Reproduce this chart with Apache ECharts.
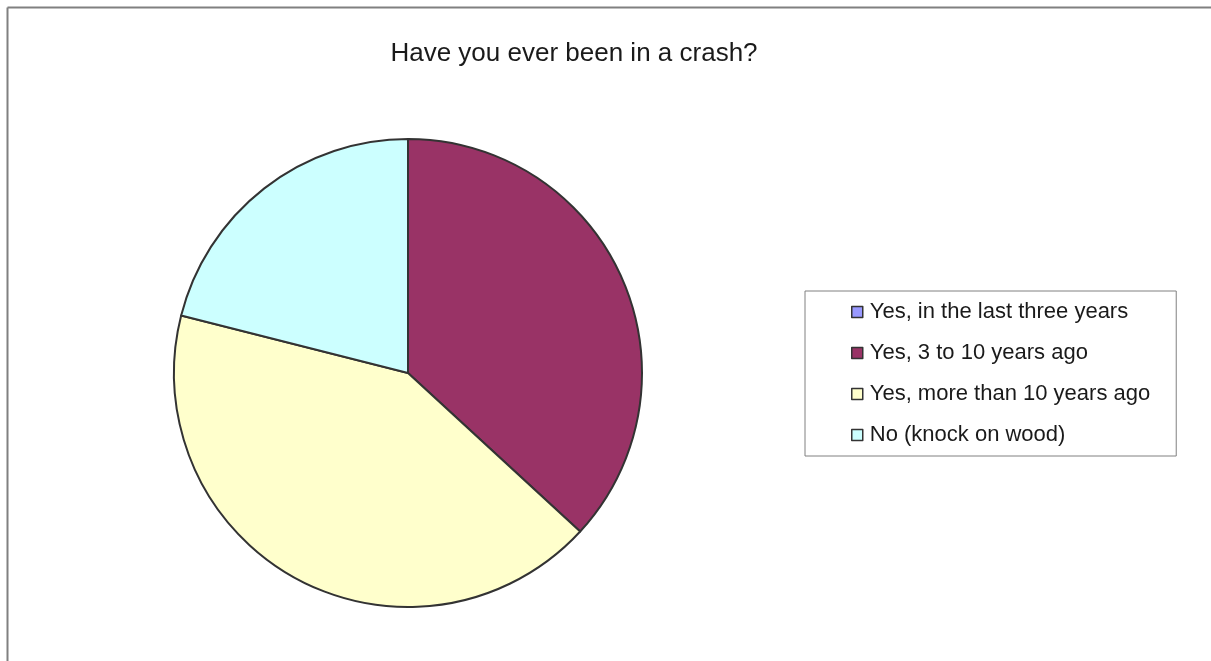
<!DOCTYPE html>
<html>
<head>
<meta charset="utf-8">
<script src="https://cdn.jsdelivr.net/npm/echarts@6/dist/echarts.min.js"></script>
<style>
  html, body { margin: 0; padding: 0; background: #fff; }
  #chart { width: 1211px; height: 661px; }
</style>
</head>
<body>
<div id="chart"></div>
<script>
// answers and counts
var categories = ['Yes, in the last three years', 'Yes, 3 to 10 years ago', 'Yes, more than 10 years ago', 'No (knock on wood)'];
var counts = [0, 7, 8, 4];
var colors = ['#9999FF', '#993366', '#FFFFCC', '#CCFFFF'];

var chartDom = document.getElementById('chart');
var myChart = echarts.init(chartDom);

var pieData = categories.map(function (name, i) {
  return { name: name, value: counts[i], itemStyle: { color: colors[i] } };
});

var option = {
  animation: false,
  title: {
    text: 'Have you ever been in a crash?',
    left: 569,
    top: 36,
    textAlign: 'center',
    textStyle: {
      fontFamily: 'Liberation Sans, Arial, sans-serif',
      fontSize: 26,
      fontWeight: 'normal',
      color: '#1a1a1a'
    }
  },
  legend: {
    orient: 'vertical',
    left: 805,
    top: 291,
    padding: [9, 26, 9, 46],
    borderColor: '#808080',
    borderWidth: 1,
    itemWidth: 11,
    itemHeight: 11,
    itemGap: 17,
    icon: 'rect',
    itemStyle: { borderColor: '#333', borderWidth: 1.5 },
    textStyle: {
      fontFamily: 'Liberation Sans, Arial, sans-serif',
      fontSize: 22,
      lineHeight: 24,
      color: '#1a1a1a',
      padding: [0, 0, 0, 2]
    },
    data: categories
  },
  graphic: [
    // frame lines along the top and left edge
    { type: 'line', shape: { x1: 7.5, y1: 7.5, x2: 1211, y2: 7.5 }, style: { stroke: '#808080', lineWidth: 2 } },
    { type: 'line', shape: { x1: 7.5, y1: 7.5, x2: 7.5, y2: 661 }, style: { stroke: '#808080', lineWidth: 2 } }
  ],
  series: [
    {
      type: 'pie',
      center: [408, 373],
      radius: 234,
      startAngle: 90,
      clockwise: true,
      label: { show: false },
      labelLine: { show: false },
      emphasis: { disabled: true },
      itemStyle: { borderColor: '#333', borderWidth: 2 },
      data: pieData
    }
  ]
};
myChart.setOption(option);
</script>
</body>
</html>
